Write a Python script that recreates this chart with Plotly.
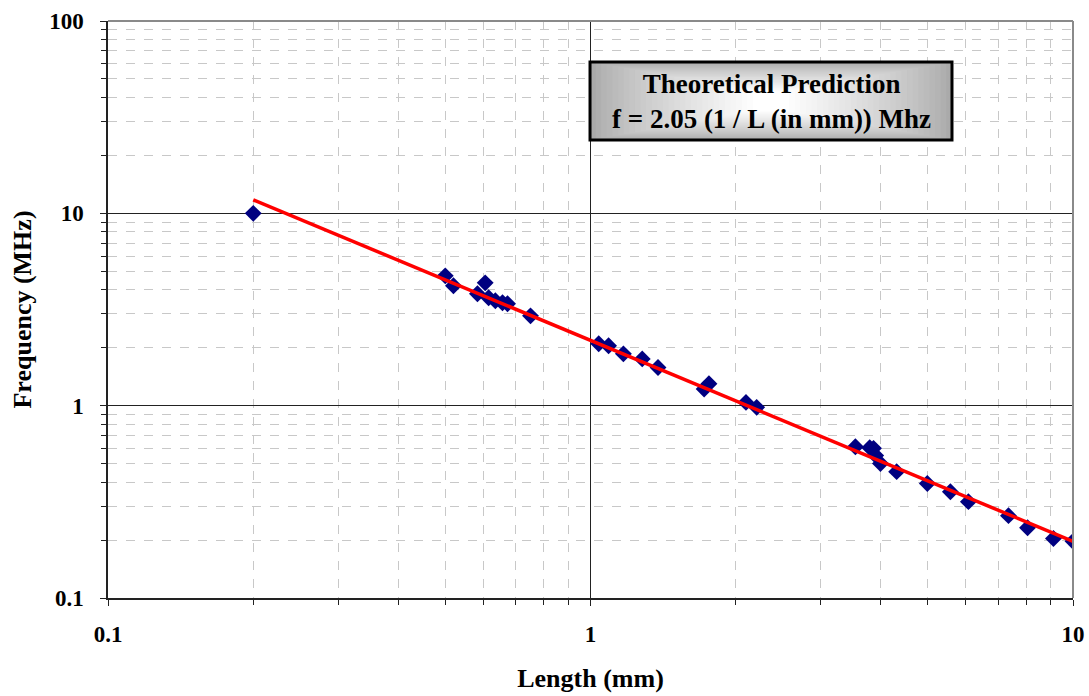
import plotly.graph_objects as go

# Measured resonance data: length in mm, frequency in MHz
length_mm = [0.2, 0.5, 0.52, 0.605, 0.583, 0.615, 0.635, 0.657, 0.673, 0.751,
             1.04, 1.09, 1.17, 1.28, 1.38, 1.72, 1.76, 2.1, 2.21,
             3.54, 3.79, 3.86, 3.9, 3.99, 4.31, 4.99, 5.57, 6.07, 7.35, 8.05, 9.11, 10.0]
freq_mhz = [10.0, 4.73, 4.2, 4.35, 3.82, 3.64, 3.51, 3.43, 3.39, 2.93,
            2.1, 2.05, 1.86, 1.75, 1.58, 1.22, 1.3, 1.04, 0.98,
            0.612, 0.605, 0.6, 0.55, 0.5, 0.454, 0.394, 0.357, 0.317, 0.268, 0.232, 0.204, 0.197]

# Prediction curve
fit_len = [0.2, 0.5, 1.0, 2.0, 5.0, 10.0]
fit_freq = [11.75, 4.51, 2.19, 1.06, 0.407, 0.197]

x_ticks = [0.1, 1, 10]
y_ticks = [0.1, 1, 10, 100]

FONT = "Liberation Serif"
tick_font = dict(family=FONT, size=23, color="black", weight="bold")
title_font = dict(family=FONT, size=26, color="black", weight="bold")
box_font = dict(family=FONT, size=27, color="black", weight="bold")

fig = go.Figure()
fig.add_trace(go.Scatter(
    x=length_mm, y=freq_mhz, mode="markers",
    marker=dict(symbol="diamond", size=13, color="#000080", line=dict(width=0)),
    showlegend=False))
fig.add_trace(go.Scatter(
    x=fit_len, y=fit_freq, mode="lines",
    line=dict(color="#ff0000", width=3.5), showlegend=False))

minor = dict(dtick="D1", showgrid=True, gridcolor="#c8c8c8", griddash="dash",
             gridwidth=1, ticks="outside", ticklen=5, tickcolor="#222")

common = dict(
    type="log", showgrid=True, gridcolor="#222222", gridwidth=1,
    showline=True, linecolor="#222222", linewidth=1.5,
    ticks="outside", ticklen=6, tickcolor="#222", minor=minor,
    tickfont=tick_font, zeroline=False, automargin=False)

fig.update_xaxes(
    range=[-1, 1], tickvals=x_ticks, ticktext=[str(v) for v in x_ticks],
    ticklabelstandoff=9,
    title=dict(text="Length (mm)", font=title_font, standoff=22), **common)
fig.update_yaxes(
    range=[-1, 2], tickvals=y_ticks, ticktext=[str(v) for v in y_ticks],
    ticklabelstandoff=12,
    title=dict(text="Frequency (MHz)", font=title_font, standoff=10), **common)

fig.update_layout(
    width=1089, height=696,
    margin=dict(l=108, r=16, t=21, b=98),
    paper_bgcolor="white", plot_bgcolor="white",
    font=dict(family=FONT, color="black"),
)

# Gray frame on the top and right of the plot area
shapes = [
    dict(type="line", xref="paper", yref="paper", x0=0, x1=1, y0=1, y1=1,
         line=dict(color="#8a8a8a", width=2)),
    dict(type="line", xref="paper", yref="paper", x0=1, x1=1, y0=0, y1=1,
         line=dict(color="#8a8a8a", width=2)),
]

# Annotation box with a soft gray-to-white gradient
bx0, bx1, by0, by1 = 0.4995, 0.8746, 0.7936, 0.9289
cx, cy = (bx0 + bx1) / 2, (by0 + by1) / 2
steps = 30
for i in range(steps):
    t = i / (steps - 1)
    g = int(170 + (255 - 170) * t ** 0.8)
    hw = (bx1 - bx0) / 2 * (1 - t * 0.9)
    hh = (by1 - by0) / 2 * (1 - t * 0.75)
    shapes.append(dict(type="rect", xref="paper", yref="paper",
                       x0=cx - hw, x1=cx + hw, y0=cy - hh, y1=cy + hh,
                       fillcolor=f"rgb({g},{g},{g})", line=dict(width=0), layer="above"))
shapes.append(dict(type="rect", xref="paper", yref="paper",
                   x0=bx0, x1=bx1, y0=by0, y1=by1,
                   line=dict(color="black", width=3), fillcolor="rgba(0,0,0,0)", layer="above"))
fig.update_layout(shapes=shapes)

fig.add_annotation(
    xref="paper", yref="paper", x=cx, y=cy, xanchor="center", yanchor="middle",
    showarrow=False,
    text="Theoretical Prediction<br>f = 2.05 (1 / L (in mm)) Mhz",
    font=box_font, align="center")

fig.write_html("out.html")
